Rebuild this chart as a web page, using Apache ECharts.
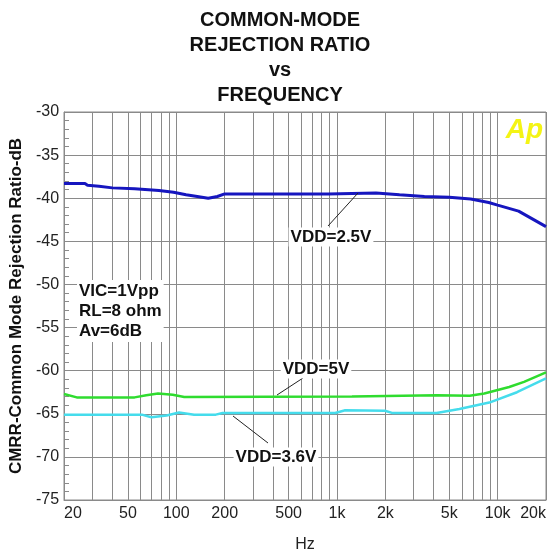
<!DOCTYPE html>
<html>
<head>
<meta charset="utf-8">
<script src="https://cdn.jsdelivr.net/npm/echarts@6/dist/echarts.min.js"></script>
<style>
  html, body { margin: 0; background: #fff; }
  #chart { width: 549px; height: 558px; }
</style>
</head>
<body>
<div id="chart"></div>
<script>
// ── data (Hz, dB) ────────────────────────────────────────────────────
const GRID_FREQS  = [20, 30, 40, 50, 60, 70, 80, 90,
                     100, 200, 300, 400, 500, 600, 700, 800, 900,
                     1000, 2000, 3000, 4000, 5000, 6000, 7000, 8000, 9000,
                     10000, 20000];
const LABEL_FREQS = [20, 50, 100, 200, 500, 1000, 2000, 5000, 10000, 20000];

const vdd25 = [
  [20, -38.3], [27, -38.3], [28, -38.5], [33, -38.6], [40, -38.8], [55, -38.9],
  [78, -39.1], [96, -39.3], [115, -39.6], [135, -39.8], [158, -40.0], [180, -39.8],
  [200, -39.5], [880, -39.5], [900, -39.4], [1750, -39.4], [1800, -39.55],
  [2450, -39.6], [3500, -39.8], [5000, -39.9], [6800, -40.1], [8800, -40.5],
  [10000, -40.8], [13500, -41.5], [20000, -43.3]
];
const vdd5 = [
  [20, -62.7], [24, -63.1], [55, -63.1], [65, -62.85], [77, -62.65], [95, -62.8],
  [112, -63.05], [1240, -63.0], [1260, -62.85], [4200, -62.85], [4250, -62.95],
  [6700, -62.9], [8260, -62.65], [11800, -61.9], [14600, -61.3], [20000, -60.2]
];
const vdd36 = [
  [20, -65.1], [61, -65.1], [70, -65.4], [87, -65.2], [104, -64.85], [129, -65.1],
  [176, -65.1], [194, -64.9], [975, -64.9], [1125, -64.6], [1990, -64.65],
  [2200, -64.9], [4170, -64.9], [5780, -64.45], [8870, -63.7], [13200, -62.5],
  [20000, -60.9]
];

const GRID_COLOR = '#8a8a8a';
const FONT = 'Liberation Sans, Arial, sans-serif';

function fmtHz(v) {
  return v >= 1000 ? (v / 1000) + 'k' : String(v);
}

const chart = echarts.init(document.getElementById('chart'), null, { renderer: 'canvas' });

const note = { fontFamily: FONT, fontSize: 17, fontWeight: 'bold', fill: '#111',
               backgroundColor: '#fff', padding: [1, 2] };

chart.setOption({
  animation: false,
  backgroundColor: '#fff',
  title: {
    text: 'COMMON-MODE\nREJECTION RATIO\nvs\nFREQUENCY',
    left: 275, top: 3, textAlign: 'center',
    textStyle: { fontFamily: FONT, fontSize: 20, fontWeight: 'bold', color: '#111', lineHeight: 25 },
  },
  grid: { left: 62, right: 2, top: 112, bottom: 56, show: true,
          borderColor: GRID_COLOR, borderWidth: 1, backgroundColor: '#fff' },
  xAxis: {
    type: 'log', logBase: 10, min: 20, max: 20000,
    name: 'Hz', nameLocation: 'middle', nameGap: 37,
    nameTextStyle: { fontFamily: FONT, fontSize: 16, color: '#222' },
    axisLine: { show: true, lineStyle: { color: GRID_COLOR } },
    axisTick: { show: false, customValues: GRID_FREQS },
    splitLine: { show: true, lineStyle: { color: GRID_COLOR, width: 1 } },
    minorSplitLine: { show: false },
    axisLabel: {
      customValues: LABEL_FREQS, formatter: fmtHz, margin: 6,
      fontFamily: FONT, fontSize: 16, color: '#222',
      alignMinLabel: 'left', alignMaxLabel: 'right',
    },
  },
  yAxis: {
    type: 'value', min: -75, max: -30, interval: 5,
    name: 'CMRR-Common Mode Rejection Ratio-dB', nameLocation: 'middle', nameGap: 37,
    nameTextStyle: { fontFamily: FONT, fontSize: 17, fontWeight: 'bold', color: '#111' },
    axisLine: { show: true, lineStyle: { color: GRID_COLOR } },
    axisTick: { show: true, inside: true, length: 6, lineStyle: { color: GRID_COLOR } },
    minorTick: { show: true, splitNumber: 5, length: 5, lineStyle: { color: GRID_COLOR } },
    splitLine: { show: true, lineStyle: { color: GRID_COLOR, width: 1 } },
    axisLabel: { fontFamily: FONT, fontSize: 16, color: '#222', margin: 5 },
  },
  series: [
    { name: 'VDD=2.5V', type: 'line', data: vdd25, showSymbol: false,
      lineStyle: { color: '#1616bf', width: 3 } },
    { name: 'VDD=5V', type: 'line', data: vdd5, showSymbol: false,
      lineStyle: { color: '#2fdc2f', width: 2.5 } },
    { name: 'VDD=3.6V', type: 'line', data: vdd36, showSymbol: false,
      lineStyle: { color: '#45dcec', width: 2.5 } },
  ],
  graphic: [
    // leader lines
    { type: 'line', shape: { x1: 328, y1: 226, x2: 358, y2: 193 }, style: { stroke: '#222', lineWidth: 1 }, z: 50 },
    { type: 'line', shape: { x1: 303, y1: 378, x2: 277, y2: 395 }, style: { stroke: '#222', lineWidth: 1 }, z: 50 },
    { type: 'line', shape: { x1: 233, y1: 416, x2: 268, y2: 443 }, style: { stroke: '#222', lineWidth: 1 }, z: 50 },
    // curve labels
    { type: 'text', x: 331, y: 237, z: 60,
      style: Object.assign({ text: 'VDD=2.5V', align: 'center', verticalAlign: 'middle' }, note) },
    { type: 'text', x: 316, y: 369, z: 60,
      style: Object.assign({ text: 'VDD=5V', align: 'center', verticalAlign: 'middle' }, note) },
    { type: 'text', x: 276, y: 457, z: 60,
      style: Object.assign({ text: 'VDD=3.6V', align: 'center', verticalAlign: 'middle' }, note) },
    // test conditions
    { type: 'text', x: 77, y: 280, z: 60,
      style: Object.assign({ text: 'VIC=1Vpp\nRL=8 ohm\nAv=6dB', align: 'left', verticalAlign: 'top',
                             lineHeight: 20 }, note) },
    // Ap logo
    { type: 'text', x: 543, y: 130, z: 60,
      style: { text: 'Ap', align: 'right', verticalAlign: 'middle', fill: '#f4f414',
               fontFamily: FONT, fontSize: 28, fontWeight: 'bold', fontStyle: 'italic' } },
  ],
});
</script>
</body>
</html>
